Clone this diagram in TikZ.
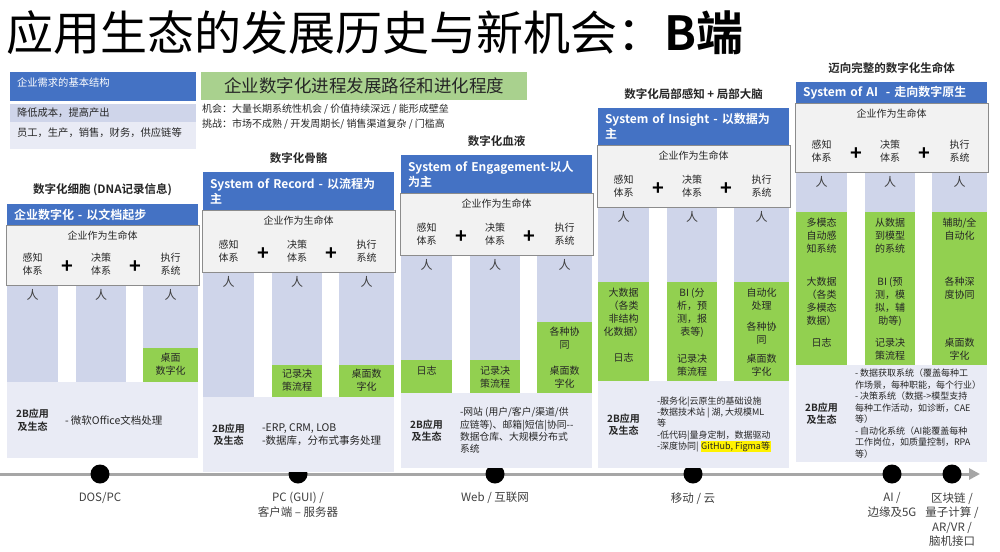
\documentclass[tikz,border=0pt]{standalone}
\usepackage{fontspec}
\setmainfont{Noto Sans CJK SC}[BoldFont={Noto Sans CJK SC Bold}]
\usetikzlibrary{positioning}
\usetikzlibrary{arrows.meta}

\definecolor{barblue}{HTML}{4472C4}
\definecolor{colblue}{HTML}{CFD5EA}
\definecolor{appblue}{HTML}{E9EBF5}
\definecolor{leafgreen}{HTML}{92D050}
\definecolor{titlegreen}{HTML}{A9D18E}
\definecolor{boxgray}{HTML}{F2F2F2}
\definecolor{linegray}{HTML}{8C8C8C}
\definecolor{axisgray}{HTML}{A6A6A6}
\definecolor{ink}{HTML}{262626}
\definecolor{inkgray}{HTML}{404040}
\setlength{\fboxsep}{0.5pt}

\begin{document}
\begin{tikzpicture}[x=1pt, y=-1pt,
    every node/.style={inner sep=0pt, outer sep=0pt, text=ink},
    box/.style={anchor=north west},
    bar/.style={box, fill=barblue, text=white, align=left, text width=177pt, inner xsep=7pt, minimum width=191pt, font=\fontsize{12}{15}\selectfont\bfseries},
    lifebox/.style={box, fill=boxgray, draw=linegray, line width=1pt, minimum width=193pt},
    col/.style={box, fill=colblue},
    leaf/.style={anchor=south west, fill=leafgreen},
    app/.style={box, fill=appblue, minimum width=191pt},
    head/.style={font=\fontsize{11.5}{14}\selectfont\bfseries},
    small/.style={font=\fontsize{10}{12.5}\selectfont, align=center},
    plus/.style={font=\fontsize{20}{20}\selectfont\bfseries, text=black},
    ren/.style={font=\fontsize{12}{14}\selectfont, text=inkgray},
    gtext/.style={anchor=north, font=\fontsize{10}{13}\selectfont, align=center},
    appname/.style={font=\fontsize{10}{12.5}\selectfont\bfseries, align=center},
    apptext/.style={anchor=west, align=left},
    dot/.style={circle, fill=black, minimum size=19pt},
    era/.style={font=\fontsize{11.5}{14.5}\selectfont, align=center, text=inkgray}]

  % Page
  \fill[white] (0,0) rectangle (1000,551);
  \useasboundingbox (0,0) rectangle (1000,551);

  % Title
  \node (title) [anchor=west, font=\fontsize{47}{50}\selectfont, text=black] at (6,33) {应用生态的发展历史与新机会：\textbf{B端}};

  % Basic structure of enterprise needs
  \node (need) [box, fill=barblue, minimum width=186pt, minimum height=29pt] at (10,72) {};
  \node (needt) [anchor=west, text=white, font=\fontsize{10.3}{12}\selectfont] at (17,83) {企业需求的基本结构};
  \node (need1) [box, fill=colblue, minimum width=186pt, minimum height=18pt] at (10,104) {};
  \node (need1t) [anchor=west, font=\fontsize{10.3}{12}\selectfont] at (17,113) {降低成本，提高产出};
  \node (need2) [box, fill=appblue, minimum width=186pt, minimum height=27pt] at (10,122) {};
  \node (need2t) [anchor=west, font=\fontsize{10.3}{12}\selectfont] at (17,133) {员工，生产，销售，财务，供应链等};

  % Road title
  \node (road) [box, fill=titlegreen, minimum width=326pt, minimum height=28pt, font=\fontsize{17.5}{20}\selectfont] at (201,72) {企业数字化进程发展路径和进化程度};
  \node (chance) [box, align=left, font=\fontsize{10}{15}\selectfont] at (202,104) {机会：大量长期系统性机会 / 价值持续深远 / 能形成壁垒\\挑战：市场不成熟 / 开发周期长/ 销售渠道复杂 / 门槛高};

  % Time axis with its dots
  \coordinate (tl0) at (0,474);
  \coordinate (tl1) at (980,474);
  \draw[line width=3pt, axisgray, -{Triangle[length=11pt,width=11pt]}] (tl0) -- (tl1);
  \foreach \k/\x in {1/100, 2/298, 3/495, 4/693, 5/892, 6/952}
    \node (dot\k) [dot] at (\x,474) {};

  % The five stages
  \foreach \i/\xa/\ya/\yb/\yc/\yd/\ye/\hd/\bt in {
      1/7/204/225/285/382/458/{数字化细胞 (DNA记录信息)}/{企业数字化 - 以文档起步},
      2/203/172/210/272/397/472/{数字化骨骼}/{System of Record - 以流程为\\主},
      3/401/155/193/255/393/468/{数字化血液}/{System of Engagement-以人\\为主},
      4/598/108/145/207/381/468/{数字化局部感知 + 局部大脑}/{System of Insight - 以数据为\\主},
      5/796/82/103/172/365/462/{迈向完整的数字化生命体}/{System of AI\ \ - 走向数字原生}} {
    % heading
    \node (h\i) [head] at (\xa+95.5,\ya-14) {\hd};
    % 2B area and the three columns
    \node (ap\i) [app, minimum height={(\ye-\yd)*1pt}] at (\xa,\yd) {};
    \foreach \j/\cx/\cw in {1/0/51, 2/69/50, 3/136/55} {
      \node (c\i\j) [col, minimum width=\cw*1pt, minimum height={(\yd-\yc)*1pt}] at (\xa+\cx,\yc) {};
      \node (p\i\j) [ren, below=4pt of c\i\j.north] {人};
    }
    % blue bar and the living body
    \node (bar\i) [bar, minimum height={(\yb-\ya)*1pt}] at (\xa,\ya) {\bt};
    \node (life\i) [lifebox, minimum height={(\yc-\yb)*1pt}] at (\xa-1,\yb) {};
    \node (lt\i) [small] at (\xa+95.5,\yb+11) {企业作为生命体};
    \node (sa\i) [small] at (\xa+25.5,\yc-21) {感知\\体系};
    \node (sb\i) [small] at (\xa+94,\yc-21) {决策\\体系};
    \node (sc\i) [small] at (\xa+163.5,\yc-21) {执行\\系统};
    \node (pa\i) [plus] at (\xa+60,\yc-18) {+};
    \node (pb\i) [plus] at (\xa+128,\yc-18) {+};
    \node (an\i) [appname] at (\xa+25.5,{(\yd+\ye)/2}) {2B应用\\及生态};
  }

  % Digitised parts (green)
  \foreach \n/\w/\h in {13/55/34, 22/50/32, 23/55/32, 31/51/33, 32/50/33, 33/55/71,
      41/51/99, 42/50/99, 43/55/99, 51/51/153, 52/50/153, 53/55/153}
    \node (g\n) [leaf, minimum width=\w*1pt, minimum height=\h*1pt] at (c\n.south west) {};

  \foreach \n/\y/\t [count=\k] in {13/353/{桌面\\数字化}, 22/369/{记录决\\策流程}, 23/369/{桌面数\\字化},
      31/366/{日志}, 32/366/{记录决\\策流程}, 33/327/{各种协\\同}, 33/366/{桌面数\\字化},
      41/288/{大数据\\（各类\\非结构\\化数据）}, 41/353/{日志}, 42/288/{BI (分\\析，预\\测，报\\表等)},
      42/354/{记录决\\策流程}, 43/288/{自动化\\处理}, 43/322/{各种协\\同}, 43/354/{桌面数\\字化},
      51/218/{多模态\\自动感\\知系统}, 51/277/{大数据\\（各类\\多模态\\数据）}, 51/338/{日志},
      52/218/{从数据\\到模型\\的系统}, 52/277/{BI (预\\测，模\\拟，辅\\助等)}, 52/338/{记录决\\策流程},
      53/218/{辅助/全\\自动化}, 53/277/{各种深\\度协同}, 53/338/{桌面数\\字化}}
    \node (gt\k) [gtext] at (c\n.north |- 0,\y) {\t};

  % 2B applications
  \node (at1) [apptext, font=\fontsize{10.5}{13}\selectfont] at ([xshift=58pt]ap1.west) {- 微软Office文档处理};
  \node (at2) [apptext, font=\fontsize{10.5}{13}\selectfont] at ([xshift=59pt]ap2.west) {-ERP, CRM, LOB\\-数据库，分布式事务处理};
  \node (at3) [apptext, font=\fontsize{9.8}{12.3}\selectfont] at ([xshift=59pt]ap3.west) {-网站 (用户/客户/渠道/供\\应链等)、邮箱|短信|协同-{}-\\数据仓库、大规模分布式\\系统};
  \node (at4) [apptext, font=\fontsize{9}{11.3}\selectfont] at ([xshift=59pt]ap4.west) {-服务化|云原生的基础设施\\-数据技术站 | 湖, 大规模ML\\等\\-低代码|量身定制，数据驱动\\-深度协同| \colorbox{yellow}{GitHub, Figma等}};
  \node (at5) [apptext, font=\fontsize{9}{11.5}\selectfont] at ([xshift=59pt]ap5.west) {- 数据获取系统（覆盖每种工\\作场景，每种职能，每个行业）\\- 决策系统（数据->模型支持\\每种工作活动，如诊断，CAE\\等）\\- 自动化系统（AI能覆盖每种\\工作岗位，如质量控制，RPA\\等）};

  % Eras on the axis
  \node (era1) [era, below=9pt of dot1] {DOS/PC};
  \node (era2) [era, below=9pt of dot2] {PC (GUI) /\\客户端 – 服务器};
  \node (era3) [era, below=9pt of dot3] {Web / 互联网};
  \node (era4) [era, below=9pt of dot4] {移动 / 云};
  \node (era5) [era, below=9pt of dot5] {AI /\\边缘及5G};
  \node (era6) [era, below=9pt of dot6] {区块链 /\\量子计算 /\\AR/VR /\\脑机接口};
\end{tikzpicture}
\end{document}
